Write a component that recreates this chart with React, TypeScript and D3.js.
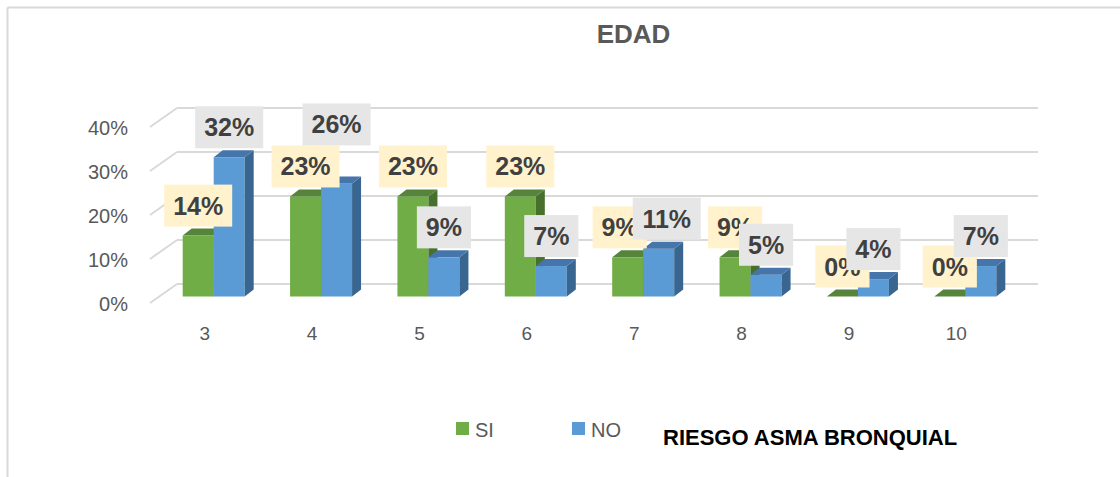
import React from "react";
import * as d3 from "d3";

const categories = ["3", "4", "5", "6", "7", "8", "9", "10"];
const siValues = [14, 23, 23, 23, 9, 9, 0, 0];
const noValues = [32, 26, 9, 7, 11, 5, 4, 7];
const yTicks = [0, 10, 20, 30, 40];
const seriesNames = ["SI", "NO"];
const title = "EDAD";
const axisTitle = "RIESGO ASMA BRONQUIAL";

const W = 1120;
const H = 477;
const DX = 9;
const DY = -7;
const BAR_W = 31;
const LABEL_FS = 25;
const LABEL_H = 42;
const LABEL_PAD = 9;
const CAP = 18;

const colors = {
  si: { front: "#70AD47", top: "#55843A", side: "#46702C" },
  no: { front: "#5B9BD5", top: "#4575AA", side: "#386690" },
};

function textW(s: string) {
  let w = 0;
  for (const c of s) w += c === "%" ? 0.889 : 0.556;
  return w * LABEL_FS;
}

export default function App() {
  const x = d3.scaleBand<string>().domain(categories).range([151, 1010]).padding(0);
  const yBar = d3.scaleLinear().domain([0, 40]).range([296.5, 296.5 - 174]);
  const yFront = d3.scaleLinear().domain([0, 40]).range([303, 127]);
  const yBack = d3.scaleLinear().domain([0, 40]).range([284, 108]);

  const bar = (x0: number, v: number, c: { front: string; top: string; side: string }, key: string) => {
    const yb = yBar(0);
    const yt = yBar(v);
    const x1 = x0 + BAR_W;
    return (
      <g key={key}>
        {v > 0 && <rect x={x0} y={yt} width={BAR_W} height={yb - yt} fill={c.front} />}
        {v > 0 && (
          <polygon
            points={`${x1},${yt} ${x1 + DX},${yt + DY} ${x1 + DX},${yb + DY} ${x1},${yb}`}
            fill={c.side}
          />
        )}
        <polygon
          points={`${x0},${yt} ${x0 + DX},${yt + DY} ${x1 + DX},${yt + DY} ${x1},${yt}`}
          fill={c.top}
        />
      </g>
    );
  };

  type Lab = { cx: number; w: number; tw: number; top: number; text: string; fill: string };
  const siLabels: Lab[] = [];
  const noLabels: Lab[] = [];
  categories.forEach((cat, i) => {
    const center = (x(cat) as number) + x.bandwidth() / 2 + 9;
    const gx = center - BAR_W;
    const bx = center;
    const st = `${siValues[i]}%`;
    const nt = `${noValues[i]}%`;
    const sl: Lab = {
      cx: gx + BAR_W / 2,
      tw: textW(st),
      w: textW(st) + 2 * LABEL_PAD,
      top: yBar(siValues[i]) - 9 - LABEL_H,
      text: st,
      fill: "#FFF2CC",
    };
    const nl: Lab = {
      cx: bx + BAR_W / 2,
      tw: textW(nt),
      w: textW(nt) + 2 * LABEL_PAD,
      top: yBar(noValues[i]) - 9 - LABEL_H,
      text: nt,
      fill: "#E7E6E6",
    };
    const xOverlap = sl.cx + sl.w / 2 - (nl.cx - nl.w / 2);
    const yOverlap = Math.min(sl.top, nl.top) + LABEL_H > Math.max(sl.top, nl.top);
    if (yOverlap && xOverlap > 0.5 * Math.max(sl.w, nl.w)) {
      nl.top = sl.top - LABEL_H;
    } else {
      // text-level overlap: spread the two labels sideways
      const txo = sl.cx + sl.tw / 2 - (nl.cx - nl.tw / 2);
      const capTop = (l: Lab) => l.top + LABEL_H / 2 - CAP / 2;
      const tyo = CAP - Math.abs(capTop(sl) - capTop(nl));
      if (txo > 4 && tyo > 4) {
        const shift = txo / 2 + 2;
        sl.cx -= shift;
        nl.cx += shift;
      }
    }
    siLabels.push(sl);
    noLabels.push(nl);
  });

  const renderLabel = (l: Lab, k: string) => (
    <g key={k}>
      <rect x={l.cx - l.w / 2} y={l.top} width={l.w} height={LABEL_H} fill={l.fill} />
      <text
        x={l.cx}
        y={l.top + LABEL_H / 2 + 9}
        textAnchor="middle"
        fontFamily="'Liberation Sans', Arial, sans-serif"
        fontWeight="bold"
        fontSize={LABEL_FS}
        fill="#404040"
      >
        {l.text}
      </text>
    </g>
  );

  const backLeft = 177;
  const backRight = 1038;
  const frontLeft = 150;

  return (
    <svg
      width={W}
      height={H}
      style={{ position: "absolute", left: 0, top: 0, background: "#fff" }}
      fontFamily="'Liberation Sans', Arial, sans-serif"
    >
      <rect x={0} y={0} width={W} height={H} fill="#fff" />
      <line x1={7.5} y1={7.5} x2={W} y2={7.5} stroke="#D9D9D9" strokeWidth={2} />
      <line x1={7.5} y1={7.5} x2={7.5} y2={H} stroke="#D9D9D9" strokeWidth={2} />

      <text x={633.5} y={43} textAnchor="middle" fontWeight="bold" fontSize={26} fill="#595959">
        {title}
      </text>

      {yTicks.map((t) => (
        <g key={`g${t}`}>
          <line x1={frontLeft} y1={yFront(t)} x2={backLeft} y2={yBack(t)} stroke="#D9D9D9" strokeWidth={2} />
          <line x1={backLeft} y1={yBack(t)} x2={backRight} y2={yBack(t)} stroke="#D9D9D9" strokeWidth={2} />
          <text x={128} y={yFront(t) + 8} textAnchor="end" fontSize={20} fill="#595959">
            {`${t}%`}
          </text>
        </g>
      ))}

      {categories.map((cat, i) => {
        const center = (x(cat) as number) + x.bandwidth() / 2 + 9;
        return (
          <g key={`c${cat}`}>
            {bar(center - BAR_W, siValues[i], colors.si, `s${cat}`)}
            {bar(center, noValues[i], colors.no, `n${cat}`)}
          </g>
        );
      })}

      {categories.map((cat) => (
        <text
          key={`l${cat}`}
          x={(x(cat) as number) + x.bandwidth() / 2}
          y={340}
          textAnchor="middle"
          fontSize={19}
          fill="#595959"
        >
          {cat}
        </text>
      ))}

      {siLabels.map((l, i) => renderLabel(l, `sl${i}`))}
      {noLabels.map((l, i) => renderLabel(l, `nl${i}`))}

      <rect x={456} y={422} width={13} height={13} fill={colors.si.front} />
      <text x={475} y={437} fontSize={20} fill="#595959">
        {seriesNames[0]}
      </text>
      <rect x={572} y={422} width={13} height={13} fill={colors.no.front} />
      <text x={591} y={437} fontSize={20} fill="#595959">
        {seriesNames[1]}
      </text>
      <text x={663} y={445} fontSize={22} fontWeight="bold" fill="#000">
        {axisTitle}
      </text>
    </svg>
  );
}
